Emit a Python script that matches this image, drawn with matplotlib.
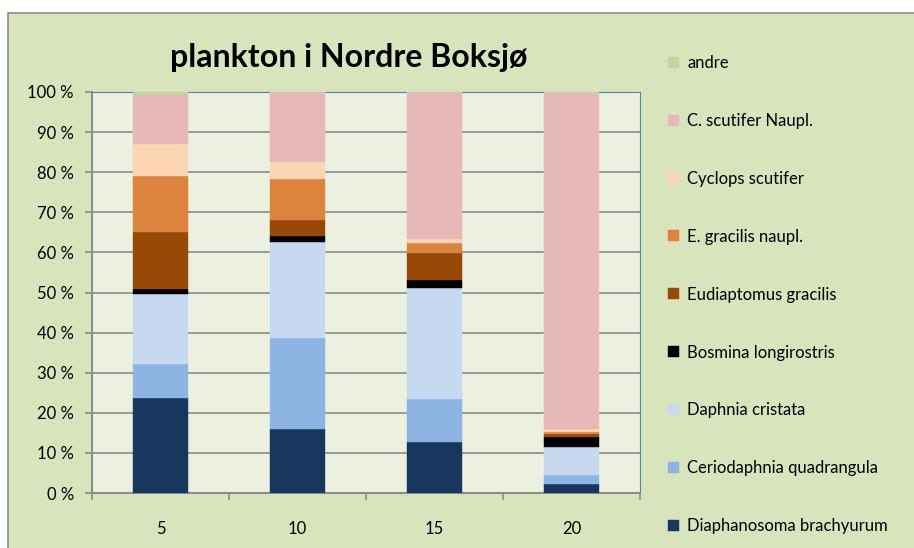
import matplotlib
matplotlib.use("Agg")
import matplotlib.pyplot as plt
from matplotlib.patches import Rectangle
import numpy as np

plt.rcParams['font.family'] = ['Lato', 'DejaVu Sans']

categories = ["5", "10", "15", "20"]
series_names = [
    "Diaphanosoma brachyurum",
    "Ceriodaphnia quadrangula",
    "Daphnia cristata",
    "Bosmina longirostris",
    "Eudiaptomus gracilis",
    "E. gracilis naupl.",
    "Cyclops scutifer",
    "C. scutifer Naupl.",
    "andre",
]
diaphanosoma = [23.8, 16.0, 12.8, 2.2]
ceriodaphnia = [8.4, 22.6, 10.6, 2.2]
daphnia = [17.4, 24.1, 27.6, 7.0]
bosmina = [1.4, 1.4, 2.1, 2.5]
eudiaptomus = [14.2, 3.9, 6.8, 0.9]
egracilis_naupl = [13.8, 10.3, 2.4, 0.3]
cyclops = [8.1, 4.3, 1.1, 0.8]
cscutifer_naupl = [12.2, 17.3, 36.6, 83.8]
andre = [0.75, 0.1, 0.0, 0.2]

series_values = [diaphanosoma, ceriodaphnia, daphnia, bosmina, eudiaptomus,
                 egracilis_naupl, cyclops, cscutifer_naupl, andre]
colors = ["#17375E", "#8EB4E3", "#C6D9F1", "#000000", "#984807",
          "#DC843E", "#FCD5B5", "#E6B9B8", "#C3D69B"]
ytick_labels = ["0 %", "10 %", "20 %", "30 %", "40 %", "50 %", "60 %", "70 %", "80 %", "90 %", "100 %"]

W, H = 914, 548
fig = plt.figure(figsize=(W / 100, H / 100), dpi=100)
fig.patch.set_facecolor("white")
# chart area background with border
fig.patches.append(Rectangle((8 / W, -0.01), 1 - 8 / W + 0.01, 1 - 13 / H + 0.01,
                             transform=fig.transFigure, facecolor="#D8E4BC",
                             edgecolor="#8C8C8C", linewidth=1.2, zorder=-5))

ax = fig.add_axes([92 / W, 1 - 493 / H, (640 - 92) / W, (493 - 92) / H])
ax.set_zorder(2)
ax.set_facecolor("#EBF1DE")

x = np.arange(len(categories))
vals = np.array(series_values, dtype=float)
# normalise to 100 %
vals = vals / vals.sum(axis=0) * 100
bottom = np.zeros(len(categories))
for name, v, c in zip(series_names, vals, colors):
    ax.bar(x, v, 0.4, bottom=bottom, color=c, label=name, zorder=3,
           edgecolor=c, linewidth=0.3)
    bottom += v

ax.set_xlim(-0.5, len(categories) - 0.5)
ax.set_ylim(0, 100)
ax.set_yticks(np.arange(0, 101, 10))
ax.set_yticklabels(ytick_labels, fontsize=12)
ax.yaxis.grid(True, color="#8C8C8C", linewidth=1.2, zorder=0)
ax.set_axisbelow(True)

ax.set_xticks(x)
ax.set_xticklabels(categories, fontsize=12)
ax.tick_params(axis="x", length=0, pad=20)
ax.set_xticks(np.arange(-0.5, len(categories), 1.0), minor=True)
ax.tick_params(axis="x", which="minor", length=5, color="#8C8C8C", width=1.2)
ax.tick_params(axis="y", length=5, color="#8C8C8C", width=1.2, pad=8)

for s in ["top", "right"]:
    ax.spines[s].set_color("#4F81BD")
    ax.spines[s].set_linewidth(0.8)
for s in ["left", "bottom"]:
    ax.spines[s].set_color("#8C8C8C")
    ax.spines[s].set_linewidth(1.5)

fig.text(349 / W, 1 - 57 / H, "plankton i Nordre Boksjø", ha="center", va="center",
         fontsize=23, fontweight="bold", color="black")

# legend (top-to-bottom order reversed)
handles, labels = ax.get_legend_handles_labels()
leg = fig.legend(handles[::-1], labels[::-1], loc="upper left",
                 bbox_to_anchor=(653 / W, 1 - 40 / H), frameon=False,
                 fontsize=12, handlelength=0.65, handleheight=0.65,
                 handletextpad=0.5, labelspacing=2.515)

fig.savefig("out.png", dpi=100, facecolor=fig.get_facecolor())
